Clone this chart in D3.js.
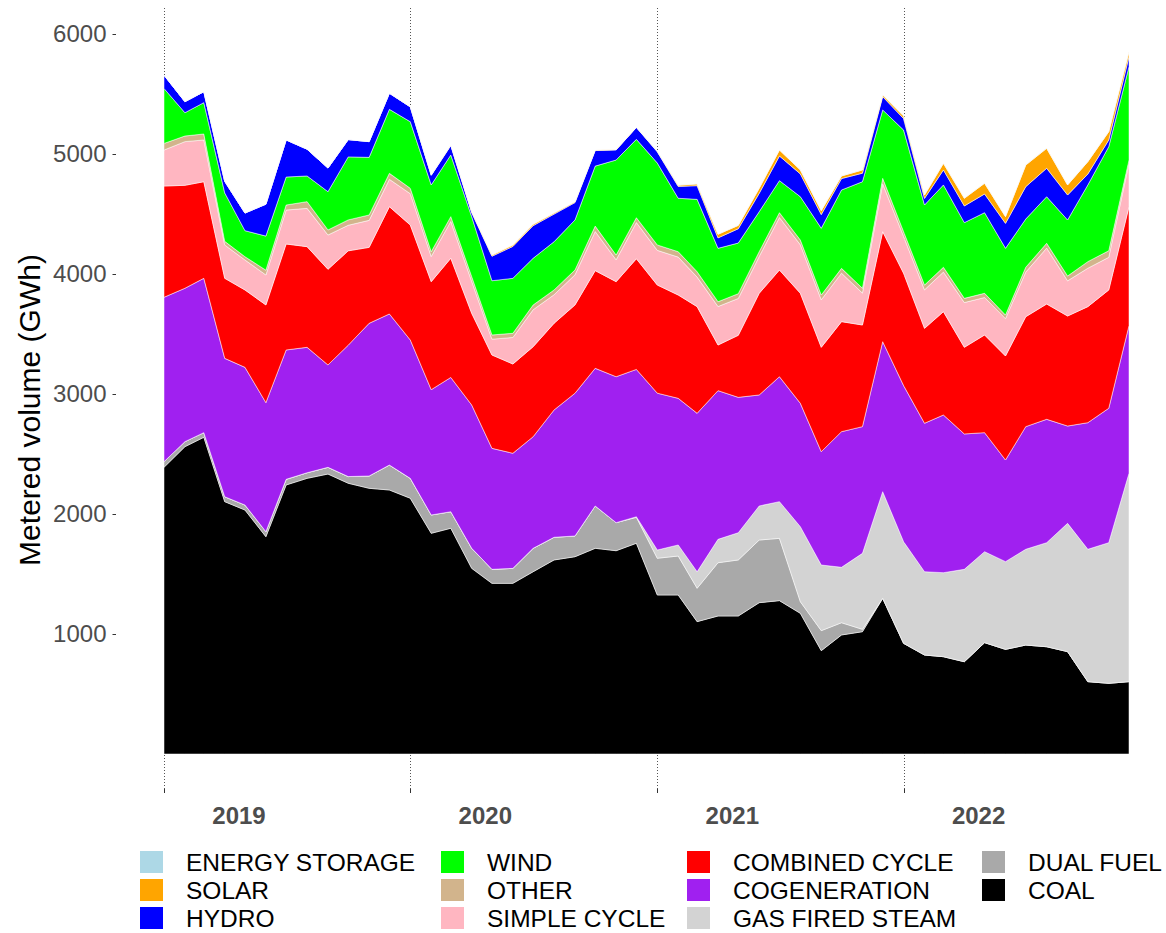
<!DOCTYPE html>
<html>
<head lang="en">
  <meta charset="UTF-8">
  <title>Metered volume by fuel type</title>
  <script src="https://cdn.jsdelivr.net/npm/d3@7"></script>
  <style>
    body { margin: 0; background: #fff; }
    text { font-family: "Liberation Sans", Arial, sans-serif; }
  </style>
</head>
<body>
  <script type="text/javascript">
    // months Jan 2019 .. Dec 2022
    var months = d3.timeMonth.range(new Date(2019, 0, 1), new Date(2023, 0, 1));
    var yearLabels = ['2019', '2020', '2021', '2022'];
    var yTicks = [1000, 2000, 3000, 4000, 5000, 6000];

    var coal = [2389, 2561, 2639, 2103, 2033, 1811, 2242, 2297, 2333, 2256, 2214, 2200,
                2131, 1839, 1881, 1547, 1422, 1422, 1519, 1617, 1644, 1714, 1694, 1756,
                1325, 1325, 1103, 1150, 1150, 1261, 1278, 1172, 861, 992, 1019, 1297,
                922, 825, 811, 769, 928, 872, 908, 894, 853, 603, 589, 603];
    var dualFuel = [47, 42, 39, 41, 42, 42, 47, 47, 56, 56, 103, 208,
                    166, 153, 138, 167, 117, 125, 195, 189, 173, 353, 234, 216,
                    306, 325, 278, 444, 467, 522, 519, 97, 167, 102, 20, 0,
                    0, 0, 0, 0, 0, 0, 0, 0, 0, 0, 0, 0];
    var gasFiredSteam = [0, 0, 0, 0, 0, 0, 0, 0, 0, 0, 0, 0,
                         0, 0, 0, 0, 0, 0, 0, 0, 0, 0, 0, 5,
                         69, 92, 138, 195, 227, 284, 306, 625, 547, 462, 633, 889,
                         847, 694, 700, 770, 758, 731, 798, 867, 1069, 1103, 1172, 1736];
    var cogeneration = [1370, 1278, 1286, 1153, 1147, 1075, 1078, 1045, 853, 1095, 1272, 1259,
                        1153, 1044, 1119, 1194, 1008, 959, 930, 1061, 1189, 1147, 1216, 1228,
                        1307, 1222, 1320, 1239, 1128, 925, 1041, 1028, 944, 1130, 1056, 1250,
                        1301, 1237, 1314, 1128, 992, 847, 1022, 1028, 811, 1055, 1120, 1231];
    var combinedCycle = [927, 858, 805, 667, 645, 814, 883, 839, 797, 786, 633, 894,
                         958, 900, 993, 764, 778, 744, 750, 722, 736, 814, 792, 922,
                         901, 861, 889, 380, 517, 847, 889, 917, 870, 917, 847, 917,
                         936, 791, 861, 722, 814, 867, 916, 961, 917, 967, 986, 991];
    var simpleCycle = [300, 364, 348, 278, 250, 250, 283, 319, 286, 213, 225, 228,
                       261, 210, 307, 266, 132, 221, 308, 238, 251, 326, 182, 302,
                       289, 316, 246, 321, 307, 307, 438, 404, 396, 404, 266, 399,
                       307, 321, 330, 373, 312, 311, 372, 466, 293, 320, 272, 359];
    var other = [55, 47, 50, 30, 27, 40, 42, 56, 42, 45, 45, 50,
                 45, 40, 40, 40, 35, 35, 40, 40, 40, 45, 40, 40,
                 45, 45, 45, 40, 40, 40, 40, 40, 40, 40, 40, 45,
                 40, 40, 40, 35, 35, 30, 40, 40, 40, 55, 55, 30];
    var wind = [458, 194, 261, 404, 217, 284, 233, 214, 319, 525, 480, 533,
                555, 556, 514, 500, 452, 458, 389, 402, 417, 500, 792, 653,
                683, 445, 603, 445, 422, 333, 267, 361, 556, 653, 888, 570,
                847, 667, 686, 631, 672, 556, 402, 388, 467, 639, 867, 778];
    var hydro = [111, 92, 91, 96, 147, 266, 309, 223, 197, 144, 131, 134,
                 123, 80, 78, 33, 204, 266, 272, 230, 145, 130, 84, 99,
                 93, 99, 114, 87, 119, 153, 205, 190, 114, 95, 71, 111,
                 95, 55, 125, 139, 156, 208, 270, 237, 208, 91, 56, 83];
    var solar = [0, 0, 0, 0, 0, 0, 0, 0, 0, 0, 0, 0,
                 2, 3, 5, 8, 10, 12, 12, 10, 8, 5, 3, 2,
                 5, 10, 15, 30, 28, 42, 50, 33, 33, 22, 27, 14,
                 22, 28, 55, 64, 89, 56, 180, 166, 84, 103, 69, 42];
    var energyStorage = [0, 0, 0, 0, 0, 0, 0, 0, 0, 0, 0, 0,
                         0, 0, 0, 0, 0, 0, 0, 0, 0, 0, 0, 0,
                         1, 1, 1, 1, 1, 1, 1, 1, 1, 1, 1, 1,
                         1, 1, 2, 2, 2, 2, 2, 2, 2, 2, 2, 2];

    // stack order: bottom first
    var series = [
      {key: 'COAL', values: coal, color: '#000000'},
      {key: 'DUAL FUEL', values: dualFuel, color: '#A9A9A9'},
      {key: 'GAS FIRED STEAM', values: gasFiredSteam, color: '#D3D3D3'},
      {key: 'COGENERATION', values: cogeneration, color: '#A020F0'},
      {key: 'COMBINED CYCLE', values: combinedCycle, color: '#FF0000'},
      {key: 'SIMPLE CYCLE', values: simpleCycle, color: '#FFB6C1'},
      {key: 'OTHER', values: other, color: '#D2B48C'},
      {key: 'WIND', values: wind, color: '#00FF00'},
      {key: 'HYDRO', values: hydro, color: '#0000FF'},
      {key: 'SOLAR', values: solar, color: '#FFA500'},
      {key: 'ENERGY STORAGE', values: energyStorage, color: '#ADD8E6'}
    ];
    var legendOrder = ['ENERGY STORAGE', 'SOLAR', 'HYDRO', 'WIND', 'OTHER', 'SIMPLE CYCLE',
                       'COMBINED CYCLE', 'COGENERATION', 'GAS FIRED STEAM', 'DUAL FUEL', 'COAL'];

    var table = months.map(function (m, i) {
      var row = {date: m};
      series.forEach(function (s) { row[s.key] = s.values[i]; });
      return row;
    });
    var colorOf = {};
    series.forEach(function (s) { colorOf[s.key] = s.color; });

    var W = 1166, H = 933;
    var panelTop = 8, panelBottom = 789, panelLeft = 116;

    var svg = d3.select('body')
        .append('svg')
        .attr('width', W)
        .attr('height', H);

    var x = d3.scaleTime()
        .domain([months[0], months[months.length - 1]])
        .range([164, 1129]);
    var y = d3.scaleLinear()
        .domain([0, 6000])
        .range([754, 34]);

    // dotted year gridlines
    var yearStarts = yearLabels.map(function (d) { return new Date(+d, 0, 1); });
    svg.append('g')
        .selectAll('line')
        .data(yearStarts)
        .enter()
        .append('line')
        .attr('x1', function (d) { return Math.round(x(d)) + 0.5; })
        .attr('x2', function (d) { return Math.round(x(d)) + 0.5; })
        .attr('y1', panelTop)
        .attr('y2', panelBottom)
        .attr('stroke', '#555')
        .attr('stroke-width', 1)
        .attr('stroke-dasharray', '1,2');

    var stack = d3.stack().keys(series.map(function (s) { return s.key; }));
    var layers = stack(table);

    var area = d3.area()
        .x(function (d) { return x(d.data.date); })
        .y0(function (d) { return y(d[0]); })
        .y1(function (d) { return y(d[1]); });

    svg.append('g')
        .selectAll('path')
        .data(layers)
        .enter()
        .append('path')
        .attr('d', area)
        .attr('fill', function (d) { return colorOf[d.key]; })
        .attr('stroke', '#fff')
        .attr('stroke-width', 0.5);

    // y axis
    var yAxis = svg.append('g')
        .attr('transform', 'translate(' + panelLeft + ',0)')
        .call(d3.axisLeft(y).tickValues(yTicks).tickSize(3.5).tickPadding(6).tickFormat(d3.format('d')));
    yAxis.select('.domain').remove();
    yAxis.selectAll('line').attr('stroke', '#333');
    yAxis.selectAll('text')
        .attr('fill', '#4D4D4D')
        .style('font-size', '24px')
        .style('font-family', '"Liberation Sans", Arial, sans-serif');

    // x ticks at year starts, labels offset into the year
    svg.append('g')
        .selectAll('line')
        .data(yearStarts)
        .enter()
        .append('line')
        .attr('x1', function (d) { return Math.round(x(d)) + 0.5; })
        .attr('x2', function (d) { return Math.round(x(d)) + 0.5; })
        .attr('y1', panelBottom)
        .attr('y2', panelBottom + 4)
        .attr('stroke', '#333');
    svg.append('g')
        .selectAll('text')
        .data(yearLabels)
        .enter()
        .append('text')
        .attr('x', function (d, i) { return x(yearStarts[i]) + 75; })
        .attr('y', 824)
        .attr('text-anchor', 'middle')
        .attr('fill', '#4D4D4D')
        .style('font-size', '24px')
        .style('font-weight', 'bold')
        .text(function (d) { return d; });

    svg.append('text')
        .attr('transform', 'translate(40,410) rotate(-90)')
        .attr('text-anchor', 'middle')
        .attr('fill', '#000')
        .style('font-size', '30px')
        .text('Metered volume (GWh)');

    // legend, 4 columns x 3 rows, column-major
    var colX = [140, 441, 687, 982];
    var rowY = [862, 890, 918];
    var legend = svg.append('g')
        .selectAll('g')
        .data(legendOrder)
        .enter()
        .append('g')
        .attr('transform', function (d, i) {
          return 'translate(' + colX[Math.floor(i / 3)] + ',' + rowY[i % 3] + ')';
        });
    legend.append('rect')
        .attr('x', 0)
        .attr('y', -11)
        .attr('width', 23)
        .attr('height', 22)
        .attr('fill', function (d) { return colorOf[d]; });
    legend.append('text')
        .attr('x', 46)
        .attr('y', 9)
        .attr('fill', '#000')
        .style('font-size', '24.5px')
        .text(function (d) { return d; });
  </script>
</body>
</html>
